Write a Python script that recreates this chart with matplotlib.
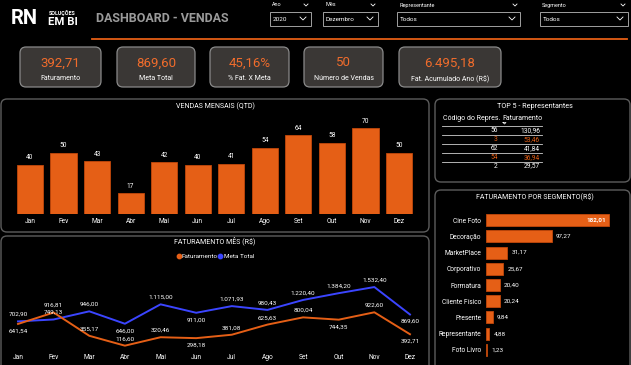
import matplotlib.pyplot as plt
from matplotlib.patches import FancyBboxPatch

plt.rcParams['font.family'] = ['Roboto', 'DejaVu Sans']

# data
meses = ["Jan", "Fev", "Mar", "Abr", "Mai", "Jun", "Jul", "Ago", "Set", "Out", "Nov", "Dez"]
vendas_qtd = [40, 50, 43, 17, 42, 40, 41, 54, 64, 58, 70, 50]
faturamento = [641.54, 916.81, 355.17, 116.60, 320.46, 298.18, 381.08, 625.63, 800.04, 744.35, 922.60, 392.71]
meta_total = [702.90, 749.13, 946.00, 646.00, 1115.00, 911.00, 1071.93, 980.43, 1220.40, 1384.20, 1532.40, 869.60]
# label side above (+1) / below (-1)
fat_lado = [-1, 1, 1, 1, 1, -1, 1, 1, 1, -1, 1, -1]
meta_lado = [1, 1, 1, -1, 1, -1, 1, 1, 1, 1, 1, -1]

segmentos = ["Cine Foto", "Decoração", "MarketPlace", "Corporativo", "Formatura",
             "Cliente Físico", "Presente", "Representante", "Foto Livro"]
seg_valores = [182.01, 97.27, 31.17, 25.67, 20.40, 20.24, 9.84, 4.88, 1.23]

top5_codigo = ["56", "3", "62", "54", "2"]
top5_fat = [130.96, 53.46, 41.84, 36.94, 29.57]

kpi_valores = ["392,71", "869,60", "45,16%", "50", "6.495,18"]
kpi_nomes = ["Faturamento", "Meta Total", "% Fat. X Meta", "Número de Vendas", "Fat. Acumulado Ano (R$)"]

slicer_nomes = ["Ano", "Mês", "Representante", "Segmento"]
slicer_valores = ["2020", "Dezembro", "Todos", "Todos"]

ORANGE = "#e55f16"
KPI_ORANGE = "#f06c2c"
BLUE = "#3b45ff"
BORDER = "#5c5c5c"
W, H = 631, 365


def br(v):
    s = f"{v:,.2f}"
    return s.replace(",", "X").replace(".", ",").replace("X", ".")


def px_axes(x0, y0, x1, y1):
    return fig.add_axes([x0 / W, 1 - y1 / H, (x1 - x0) / W, (y1 - y0) / H])


def box(x0, y0, x1, y1, fc="none", ec=BORDER, r=6, lw=1.0):
    bg.add_patch(FancyBboxPatch((x0, y0), x1 - x0, y1 - y0,
                                boxstyle=f"round,pad=0,rounding_size={r}",
                                fc=fc, ec=ec, lw=lw))


def chevron(x, y, s=2.5, c="white"):
    bg.plot([x - s, x, x + s], [y - s * 0.5, y + s * 0.5, y - s * 0.5], color=c, lw=0.6)


fig = plt.figure(figsize=(6.31, 3.65), dpi=100, facecolor="black")
bg = fig.add_axes([0, 0, 1, 1])
bg.set_xlim(0, W)
bg.set_ylim(H, 0)
bg.axis("off")

# header
bg.text(11, 18.5, "RN", color="white", fontsize=14.5, fontweight="bold", va="center", ha="left")
bg.text(48.5, 13, "SOLUÇÕES", color="white", fontsize=3.9, fontweight="bold", va="center")
bg.text(48, 22, "EM BI", color="white", fontsize=8.2, fontweight="bold", va="center")
bg.text(96, 18, "DASHBOARD - VENDAS", color="#9a9a9a", fontsize=9, fontweight="bold", va="center")
bg.plot([92, 627], [38.5, 38.5], color=ORANGE, lw=1.3)

slicer_box = [(270, 311), (323, 378), (397, 520), (540, 628)]
for (x0, x1), nome, val in zip(slicer_box, slicer_nomes, slicer_valores):
    bg.text(x0 + 2, 5, nome, color="white", fontsize=4, va="center")
    chevron(x1 - 5, 5, 2)
    bg.add_patch(plt.Rectangle((x0, 12), x1 - x0, 14, fc="none", ec="#a0a0a0", lw=0.7))
    bg.text(x0 + 3, 19.5, val, color="white", fontsize=4.6, va="center")
    chevron(x1 - 8, 18.5, 3)

# KPI cards
kpi_box = [(20, 101), (117, 195), (210, 289), (304, 383), (399, 501)]
for (x0, x1), val, nome in zip(kpi_box, kpi_valores, kpi_nomes):
    box(x0, 47, x1, 87, fc="#3a3735", ec="#8a8a8a", r=6, lw=0.9)
    xc = (x0 + x1) / 2
    bg.text(xc, 63, val, color=KPI_ORANGE, fontsize=9.5, ha="center", va="center")
    bg.text(xc, 79, nome, color="white", fontsize=5, ha="center", va="center")

# panels
box(1, 99, 429, 232)
box(1, 236, 429, 372)
box(435, 99, 630, 182)
box(435, 190, 630, 372)

# vendas mensais
bg.text(215, 106, "VENDAS MENSAIS (QTD)", color="white", fontsize=5, ha="center", va="center")
ax1 = px_axes(13.2, 115.7, 415.8, 214)
ax1.set_facecolor("none")
ax1.bar(range(12), vendas_qtd, width=0.78, color=ORANGE, edgecolor="#c2480a", lw=0.6)
for i, v in enumerate(vendas_qtd):
    ax1.annotate(str(v), (i, v), xytext=(0, 5), textcoords="offset points",
                 ha="center", va="center", color="white", fontsize=4.8)
ax1.set_xlim(-0.5, 11.5)
ax1.set_ylim(0, 80)
ax1.set_xticks(range(12), meses)
ax1.set_yticks([])
ax1.tick_params(length=0, colors="white", labelsize=4.8, pad=3)
for s in ax1.spines.values():
    s.set_visible(False)

# faturamento mes
bg.text(215, 241, "FATURAMENTO MÊS (R$)", color="white", fontsize=5, ha="center", va="center")
bg.scatter([179], [256], s=10, color=ORANGE)
bg.text(182, 256, "Faturamento", color="white", fontsize=4.6, va="center")
bg.scatter([220], [256], s=10, color=BLUE)
bg.text(223.5, 256, "Meta Total", color="white", fontsize=4.6, va="center")

ax2 = px_axes(0.2, 280.1, 427.8, 350.5)
ax2.set_facecolor("none")
ax2.plot(range(12), meta_total, color=BLUE, lw=1.4)
ax2.plot(range(12), faturamento, color=ORANGE, lw=1.4)
for i in range(12):
    ax2.annotate(br(meta_total[i]), (i, meta_total[i]), xytext=(0, 5 * meta_lado[i]),
                 textcoords="offset points", ha="center", va="center", color="white", fontsize=4.6)
    ax2.annotate(br(faturamento[i]), (i, faturamento[i]), xytext=(0, 5 * fat_lado[i]),
                 textcoords="offset points", ha="center", va="center", color="white", fontsize=4.6)
ax2.set_xlim(-0.5, 11.5)
ax2.set_ylim(0, 1700)
ax2.set_xticks(range(12), meses)
ax2.set_yticks([])
ax2.tick_params(length=0, colors="white", labelsize=4.8, pad=2.5)
for s in ax2.spines.values():
    s.set_visible(False)

# top 5
bg.text(535, 107, "TOP 5 - Representantes", color="white", fontsize=5.2, ha="center", va="center")
bg.text(443, 119, "Código do Repres.", color="white", fontsize=5, va="center")
bg.text(502, 119, "Faturamento", color="white", fontsize=5, va="center")
bg.plot([503, 506, 504.5, 503], [122.5, 122.5, 124, 122.5], color="white", lw=0.5)
linhas_y = [125.7, 135, 143.7, 153, 161.7]
for y in linhas_y:
    bg.plot([442, 542], [y, y], color="#d0d0d0", lw=0.6)
for k, (cod, fat) in enumerate(zip(top5_codigo, top5_fat)):
    y = 131 + k * 8.75
    c = ORANGE if k % 2 else "white"
    bg.text(497.7, y, cod, color=c, fontsize=4.8, ha="right", va="center")
    bg.text(540, y, br(fat), color=c, fontsize=4.8, ha="right", va="center")

# faturamento por segmento
bg.text(535, 197, "FATURAMENTO POR SEGMENTO(R$)", color="white", fontsize=5, ha="center", va="center")
ax3 = px_axes(486, 211.9, 621, 358.1)
ax3.set_facecolor("none")
ax3.barh(range(len(segmentos)), seg_valores, height=0.74, color=ORANGE, edgecolor="#c2480a", lw=0.6)
for i, v in enumerate(seg_valores):
    if i == 0:
        ax3.annotate(br(v), (v, i), xytext=(-2, 0), textcoords="offset points",
                     ha="right", va="center", color="white", fontsize=4.6, fontweight="bold")
    else:
        ax3.annotate(br(v), (v, i), xytext=(3, 0), textcoords="offset points",
                     ha="left", va="center", color="white", fontsize=4.6)
ax3.set_xlim(0, 200)
ax3.set_ylim(len(segmentos) - 0.5, -0.5)
ax3.set_yticks(range(len(segmentos)), segmentos)
ax3.set_xticks([])
ax3.tick_params(length=0, colors="white", labelsize=4.8, pad=3.5)
for s in ax3.spines.values():
    s.set_visible(False)

fig.savefig("out.png", dpi=100, facecolor="black")
